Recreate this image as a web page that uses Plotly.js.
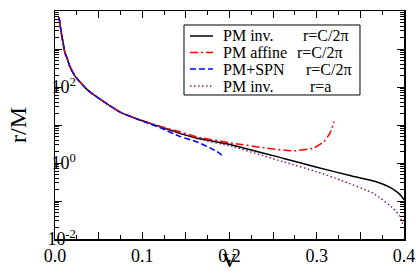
<!DOCTYPE html>
<html>
<head>
<meta charset="utf-8">
<script src="https://cdn.plot.ly/plotly-3.0.1.min.js"></script>
<style>html,body{margin:0;padding:0;background:#fff;}#plot{width:416px;height:273px;}</style>
</head>
<body>
<div id="plot"></div>
<script>
// Shared early part (all four curves coincide)
const vEarly = [0.0046, 0.0069, 0.0095, 0.0115, 0.0138, 0.0172, 0.0229, 0.0287, 0.0378, 0.0516, 0.063, 0.0745, 0.0974];
const rEarly = [6918, 2951, 1349, 776, 575, 339, 195, 135, 81.3, 47.9, 32.0, 21.9, 13.5];

// PM inv. r=C/2pi (black solid)
const vInvC = [0.12, 0.143, 0.162, 0.204, 0.262, 0.30, 0.338, 0.369, 0.384, 0.393, 0.398, 0.4];
const rInvC = [9.12, 6.03, 4.57, 2.95, 1.32, 0.776, 0.468, 0.316, 0.229, 0.166, 0.126, 0.107];

// PM affine r=C/2pi (red dash-dot)
const vAff = [0.12, 0.143, 0.162, 0.204, 0.243, 0.273, 0.296, 0.308, 0.315, 0.320];
const rAff = [9.33, 6.61, 4.9, 3.31, 2.45, 2.09, 2.45, 3.63, 6.03, 12.3];

// PM+SPN r=C/2pi (blue dashed)
const vSPN = [0.12, 0.143, 0.162, 0.175, 0.185, 0.191];
const rSPN = [8.51, 5.01, 3.63, 2.69, 2.04, 1.62];

// PM inv. r=a (maroon dotted)
const vInvA = [0.12, 0.143, 0.162, 0.204, 0.262, 0.30, 0.327, 0.365, 0.388, 0.395, 0.399];
const rInvA = [9.12, 6.03, 4.4, 2.69, 1.07, 0.589, 0.355, 0.158, 0.063, 0.040, 0.0234];

const legendNames = ["PM inv.", "PM affine", "PM+SPN", "PM inv."];
const legendRadii = ["r=C/2\u03C0", "r=C/2\u03C0", "r=C/2\u03C0", "r=a"];

const xTickVals = [0, 0.05, 0.1, 0.15, 0.2, 0.25, 0.3, 0.35, 0.4];
const xTickText = ["0.0", " ", "0.1", " ", "0.2", " ", "0.3", " ", "0.4"];
const yTickVals = [0.01, 0.1, 1, 10, 100, 1000, 10000];
const yTickText = ["10<sup>-2</sup>", " ", "10<sup>0</sup>", " ", "10<sup>2</sup>", " ", "10<sup>4</sup>"];

const yMinor = [];
for (let e = -2; e < 4; e++) for (let k = 2; k <= 9; k++) yMinor.push(k * Math.pow(10, e));

const colors = ['#000000', '#ff0000', '#0000ff', '#8b1a6a'];
const dashes = ['solid', '8px,3px,2px,3px', '6px,3px', '1.5px,2.5px'];

function mk(v, r, i) {
  return {
    x: vEarly.concat(v), y: rEarly.concat(r), name: legendNames[i] + ' ' + legendRadii[i],
    type: 'scatter', mode: 'lines', showlegend: false,
    line: {color: colors[i], dash: dashes[i], width: 1.5, shape: 'spline', smoothing: 0.5}
  };
}

const data = [
  mk(vInvC, rInvC, 0),
  mk(vAff, rAff, 1),
  mk(vSPN, rSPN, 2),
  mk(vInvA, rInvA, 3)
];

const font = {family: 'Liberation Serif, Times New Roman, serif', color: '#000'};

// legend drawn by hand (box, samples, two text columns), positions in paper fractions
const legBox = {x0: 0.3696, x1: 0.8739, y0: 0.6316, y1: 0.9386};
const rowY = [0.8904, 0.818, 0.7456, 0.671];
const sampleX = [0.3868, 0.4527];
const textX = 0.4756;
const radX = [0.7049, 0.6877, 0.7135, 0.7249];

const shapes = [{type: 'rect', xref: 'paper', yref: 'paper', x0: legBox.x0, x1: legBox.x1, y0: legBox.y0, y1: legBox.y1,
  line: {color: '#000', width: 1}, fillcolor: '#fff', layer: 'above'}];
const annotations = [];
for (let i = 0; i < 4; i++) {
  shapes.push({type: 'line', xref: 'paper', yref: 'paper', x0: sampleX[0], x1: sampleX[1], y0: rowY[i], y1: rowY[i],
    line: {color: colors[i], dash: dashes[i], width: 1.5}, layer: 'above'});
  annotations.push({xref: 'paper', yref: 'paper', x: textX, y: rowY[i], xanchor: 'left', yanchor: 'middle',
    text: legendNames[i], showarrow: false, font: Object.assign({size: 16}, font)});
  annotations.push({xref: 'paper', yref: 'paper', x: radX[i], y: rowY[i], xanchor: 'left', yanchor: 'middle',
    text: legendRadii[i], showarrow: false, font: Object.assign({size: 16}, font)});
}

const layout = {
  width: 416, height: 273,
  margin: {l: 55, r: 12, t: 11, b: 34, pad: 0},
  paper_bgcolor: '#fff', plot_bgcolor: '#fff',
  showlegend: false,
  shapes: shapes,
  annotations: annotations,
  xaxis: {
    range: [0, 0.4], showgrid: false, zeroline: false,
    showline: true, linecolor: '#000', linewidth: 1.5, mirror: 'ticks',
    ticks: 'inside', ticklen: 7, tickwidth: 1, tickcolor: '#000',
    tickmode: 'array', tickvals: xTickVals, ticktext: xTickText,
    tickfont: Object.assign({size: 18}, font),
    minor: {ticks: 'inside', dtick: 0.025, tick0: 0, ticklen: 4, tickwidth: 1, tickcolor: '#000', showgrid: false},
    title: {text: 'v', font: Object.assign({size: 28}, font), standoff: 3}
  },
  yaxis: {
    type: 'log', range: [-2, 4], showgrid: false, zeroline: false,
    showline: true, linecolor: '#000', linewidth: 1.5, mirror: 'ticks',
    ticks: 'inside', ticklen: 7, tickwidth: 1, tickcolor: '#000',
    tickmode: 'array', tickvals: yTickVals, ticktext: yTickText,
    tickfont: Object.assign({size: 18}, font), ticklabelstandoff: -26,
    minor: {ticks: 'inside', tickmode: 'array', tickvals: yMinor, ticklen: 4, tickwidth: 1, tickcolor: '#000', showgrid: false},
    title: {text: 'r/M', font: Object.assign({size: 24}, font), standoff: 14}
  }
};

Plotly.newPlot('plot', data, layout, {staticPlot: true, displayModeBar: false});
</script>
</body>
</html>
